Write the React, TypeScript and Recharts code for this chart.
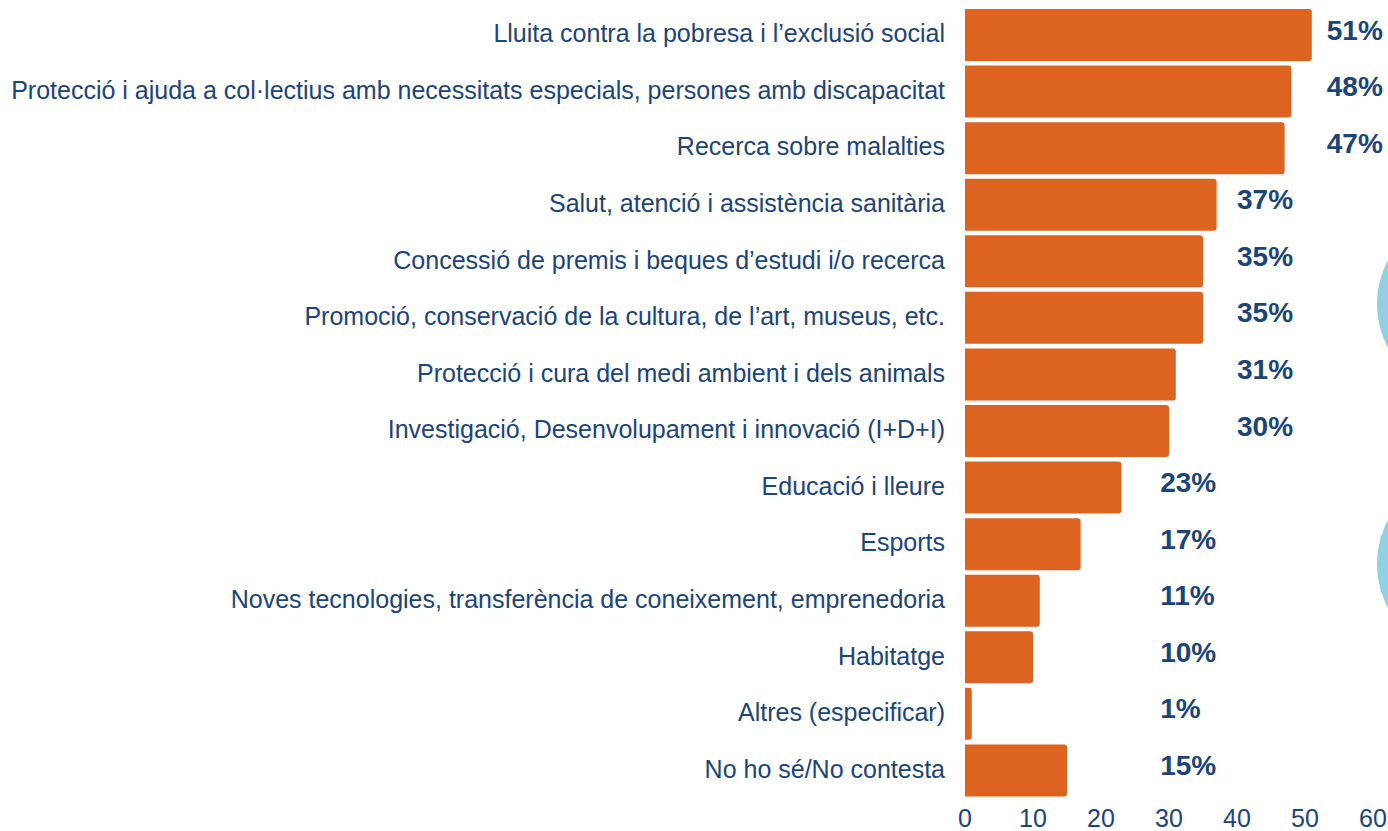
import { BarChart, Bar, XAxis, YAxis, LabelList } from "recharts";

const categories = [
  "Lluita contra la pobresa i l’exclusió social",
  "Protecció i ajuda a col·lectius amb necessitats especials, persones amb discapacitat",
  "Recerca sobre malalties",
  "Salut, atenció i assistència sanitària",
  "Concessió de premis i beques d’estudi i/o recerca",
  "Promoció, conservació de la cultura, de l’art, museus, etc.",
  "Protecció i cura del medi ambient i dels animals",
  "Investigació, Desenvolupament i innovació (I+D+I)",
  "Educació i lleure",
  "Esports",
  "Noves tecnologies, transferència de coneixement, emprenedoria",
  "Habitatge",
  "Altres (especificar)",
  "No ho sé/No contesta",
];

const values = [51, 48, 47, 37, 35, 35, 31, 30, 23, 17, 11, 10, 1, 15];

const xTicks = [0, 10, 20, 30, 40, 50, 60];

const data = categories.map((name, i) => ({ name, value: values[i] }));

const BLUE = "#1B4478";
const ORANGE = "#DD6321";
const FONT = "'Liberation Sans', Arial, sans-serif";

// value labels sit in three columns, not at the bar ends
function labelColumn(v: number) {
  if (v >= 45) return 53.2;
  if (v >= 30) return 40;
  return 28.7;
}

function ValueLabel(props: any) {
  const { x, y, width, height, value } = props;
  const perUnit = width / value;
  const lx = x + labelColumn(value) * perUnit;
  return (
    <text
      x={lx}
      y={y + height / 2 - 5}
      textAnchor="start"
      dominantBaseline="central"
      fill={BLUE}
      fontSize={28}
      fontWeight="bold"
      fontFamily={FONT}
    >
      {value}%
    </text>
  );
}

function CategoryTick(props: any) {
  const { x, y, payload } = props;
  return (
    <text
      x={x}
      y={y - 2}
      textAnchor="end"
      dominantBaseline="central"
      fill={BLUE}
      fontSize={25}
      fontFamily={FONT}
    >
      {payload.value}
    </text>
  );
}

export default function App() {
  return (
    <div
      style={{
        position: "absolute",
        left: 0,
        top: 0,
        width: 1388,
        height: 831,
        overflow: "hidden",
        background: "#fff",
        fontFamily: FONT,
      }}
    >
      <div style={{ position: "absolute", left: 1377, top: 211, width: 186, height: 186, borderRadius: "50%", background: "#93CFE3" }} />
      <div style={{ position: "absolute", left: 1377, top: 471, width: 186, height: 186, borderRadius: "50%", background: "#93CFE3" }} />
      <div style={{ position: "absolute", left: 0, top: 0 }}>
        <BarChart
          width={1388}
          height={831}
          data={data}
          layout="vertical"
          margin={{ top: 7, right: 15, left: 0, bottom: 0 }}
        >
          <XAxis
            type="number"
            domain={[0, 60]}
            ticks={xTicks}
            axisLine={false}
            tickLine={false}
            tickSize={0}
            tickMargin={10}
            height={32}
            interval={0}
            tick={{ fill: BLUE, fontSize: 25, fontFamily: FONT }}
          />
          <YAxis
            type="category"
            dataKey="name"
            width={965}
            axisLine={false}
            tickLine={false}
            tickSize={0}
            tickMargin={20}
            interval={0}
            tick={CategoryTick}
          />
          <Bar dataKey="value" fill={ORANGE} barSize={52} radius={[0, 3, 3, 0]} isAnimationActive={false}>
            <LabelList dataKey="value" content={ValueLabel} />
          </Bar>
        </BarChart>
      </div>
    </div>
  );
}
